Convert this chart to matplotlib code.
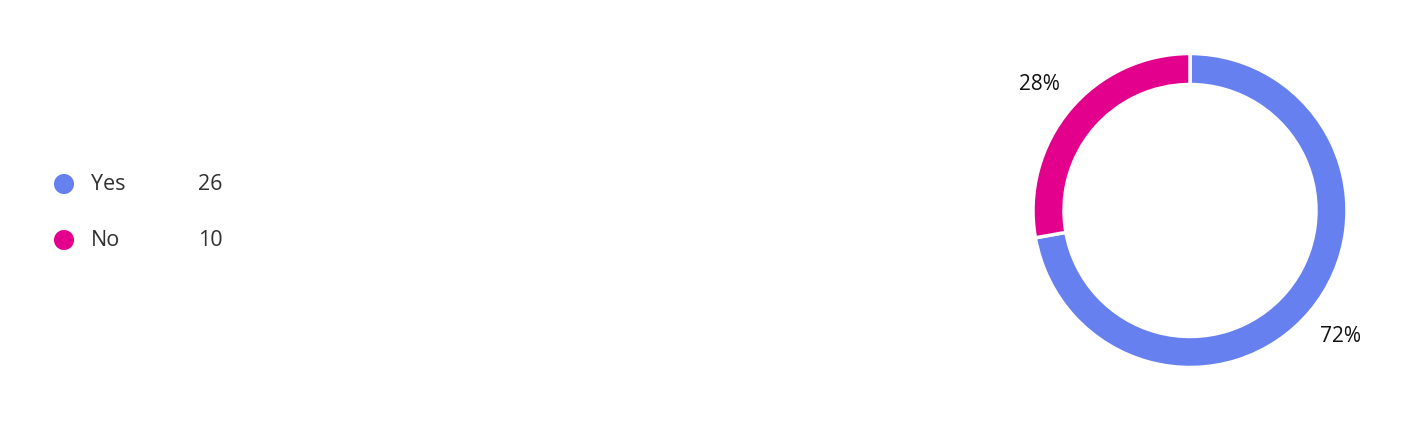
import matplotlib
matplotlib.use('Agg')
import matplotlib.pyplot as plt

# data
labels = ['Yes', 'No']
counts = [26, 10]
colors = ['#6780EF', '#E3008C']

plt.rcParams['font.family'] = ['Open Sans', 'DejaVu Sans']

W, H = 1414, 424
fig = plt.figure(figsize=(W / 100, H / 100), dpi=100)
ax = fig.add_axes([0, 0, 1, 1])

# donut, pixel units
cx, cy, r = 1190, H - 210.5, 157
ax.pie(counts, colors=colors, startangle=90, counterclock=False,
       center=(cx, cy), radius=r, frame=True,
       autopct='%.0f%%', pctdistance=1.25,
       textprops=dict(fontsize=15, color='#111111'),
       wedgeprops=dict(width=31, edgecolor='white', linewidth=2.5))
ax.set_xlim(0, W)
ax.set_ylim(0, H)
ax.axis('off')

# legend on the left
y0 = H - 184
for i, (lab, n, c) in enumerate(zip(labels, counts, colors)):
    y = y0 - i * 56
    ax.scatter([64], [y], s=210, color=c, edgecolors='none')
    ax.text(91, y, lab, fontsize=15.5, color='#323130', va='center', ha='left')
    ax.text(198, y, str(n), fontsize=15.5, color='#323130', va='center', ha='left')

fig.savefig('out.png', dpi=100)
